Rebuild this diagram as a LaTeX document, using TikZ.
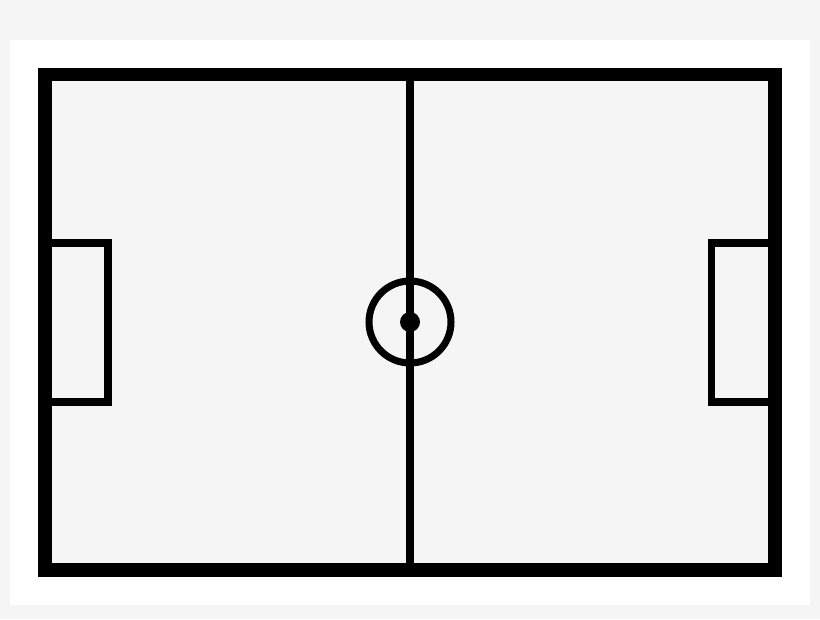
\documentclass[tikz,border=0pt]{standalone}
\usepackage{tikz}
\usetikzlibrary{positioning}
\definecolor{paper}{RGB}{245,245,245}
\tikzset{
  boundary/.style={draw=black, line width=7.9pt},
  marking/.style={draw=black, line width=4pt},
  spot/.style={fill=black}
}

\begin{document}
\begin{tikzpicture}[x=0.02cm, y=-0.02cm]
  % page and white margin
  \fill[paper] (0,0) rectangle (820,619);
  \fill[white] (10,40) rectangle (810,605);
  \fill[paper] (45,74.5) rectangle (775,570);

  \coordinate (kickoff) at (410,322);

  % goal areas
  \draw[marking] (45,243) -- (108,243) -- (108,402) -- (45,402);
  \draw[marking] (775,243) -- (711.5,243) -- (711.5,402) -- (775,402);

  % halfway line and centre circle
  \draw[marking] (410,74.5) -- (410,570);
  \draw[marking] (kickoff) circle [radius=0.82cm];
  \fill[spot] (kickoff) circle [radius=0.2cm];

  % touch lines
  \draw[boundary] (45,74.5) rectangle (775,570);
\end{tikzpicture}
\end{document}
